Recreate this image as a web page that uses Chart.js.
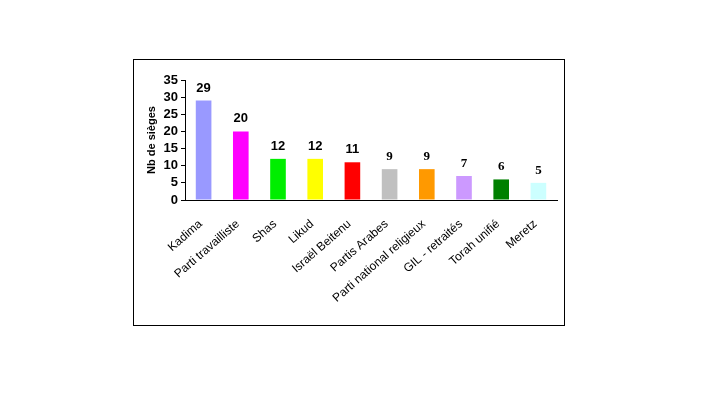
<!DOCTYPE html>
<html>
<head>
<meta charset="utf-8">
<script src="https://cdn.jsdelivr.net/npm/chart.js@4/dist/chart.umd.min.js"></script>
<style>
  html, body { margin: 0; padding: 0; background: #fff; }
  #wrap { position: relative; width: 712px; height: 403px; }
</style>
</head>
<body>
<div id="wrap"><canvas id="seatsChart" width="712" height="403"></canvas></div>
<script>
// Parties and seats
const parties = [
  "Kadima",
  "Parti travailliste",
  "Shas",
  "Likud",
  "Israël Beitenu",
  "Partis Arabes",
  "Parti national religieux",
  "GIL - retraités",
  "Torah unifié",
  "Meretz",
];
const seats = [29, 20, 12, 12, 11, 9, 9, 7, 6, 5];
const barColors = [
  "#9999FF", "#FF00FF", "#00EE00", "#FFFF00", "#FF0000",
  "#C0C0C0", "#FF9900", "#CC99FF", "#008000", "#CCFFFF",
];
// the last value labels are drawn in a serif face in the original
const labelFonts = [
  "Arial", "Arial", "Arial", "Arial", "Arial",
  "Times New Roman", "Times New Roman", "Times New Roman", "Times New Roman", "Times New Roman",
];
const yTicks = [0, 5, 10, 15, 20, 25, 30, 35];

const sansFont = "Arial, 'Liberation Sans', sans-serif";
const serifFont = "'Times New Roman', 'Liberation Serif', serif";

// frame around the chart
const framePlugin = {
  id: "frame",
  beforeDraw(chart) {
    const ctx = chart.ctx;
    ctx.save();
    ctx.strokeStyle = "#000";
    ctx.lineWidth = 1;
    ctx.strokeRect(133.5, 59.5, 431, 266);
    ctx.restore();
  },
};

// value labels above the bars
const valueLabels = {
  id: "valueLabels",
  afterDatasetsDraw(chart) {
    const ctx = chart.ctx;
    const meta = chart.getDatasetMeta(0);
    ctx.save();
    ctx.fillStyle = "#000";
    ctx.textAlign = "center";
    ctx.textBaseline = "alphabetic";
    meta.data.forEach((bar, i) => {
      const serif = labelFonts[i] !== "Arial";
      ctx.font = "bold " + (serif ? "13px " + serifFont : "13px " + sansFont);
      ctx.fillText(String(seats[i]), bar.x, bar.y - 9);
    });
    ctx.restore();
  },
};

new Chart(document.getElementById("seatsChart"), {
  type: "bar",
  data: {
    labels: parties,
    datasets: [
      {
        data: seats,
        backgroundColor: barColors,
        borderWidth: 0,
        barPercentage: 0.42,
        categoryPercentage: 1,
      },
    ],
  },
  options: {
    responsive: false,
    animation: false,
    events: [],
    layout: {
      padding: { left: 133, top: 80, right: 155, bottom: 78 },
    },
    plugins: {
      legend: { display: false },
      tooltip: { enabled: false },
    },
    scales: {
      x: {
        grid: { display: false, drawTicks: false },
        border: { display: true, color: "#000", width: 1 },
        ticks: {
          color: "#000",
          font: { family: sansFont, size: 12 },
          minRotation: 41,
          maxRotation: 41,
          padding: 17,
          labelOffset: -3,
          autoSkip: false,
        },
        afterFit(scale) {
          scale.height = 125;
        },
      },
      y: {
        min: 0,
        max: 35,
        afterBuildTicks(scale) {
          scale.ticks = yTicks.map((v) => ({ value: v }));
        },
        grid: {
          display: true,
          drawOnChartArea: false,
          drawTicks: true,
          tickLength: 4,
          color: "#000",
        },
        border: { display: true, color: "#000", width: 1 },
        ticks: {
          color: "#000",
          font: { family: sansFont, size: 13, weight: "bold" },
          padding: 3,
          autoSkip: false,
        },
        title: {
          display: true,
          text: "Nb de sièges",
          color: "#000",
          font: { family: sansFont, size: 11, weight: "bold" },
          padding: { top: 12, bottom: 0 },
        },
        afterFit(scale) {
          scale.width = 52;
        },
      },
    },
  },
  plugins: [framePlugin, valueLabels],
});
</script>
</body>
</html>
